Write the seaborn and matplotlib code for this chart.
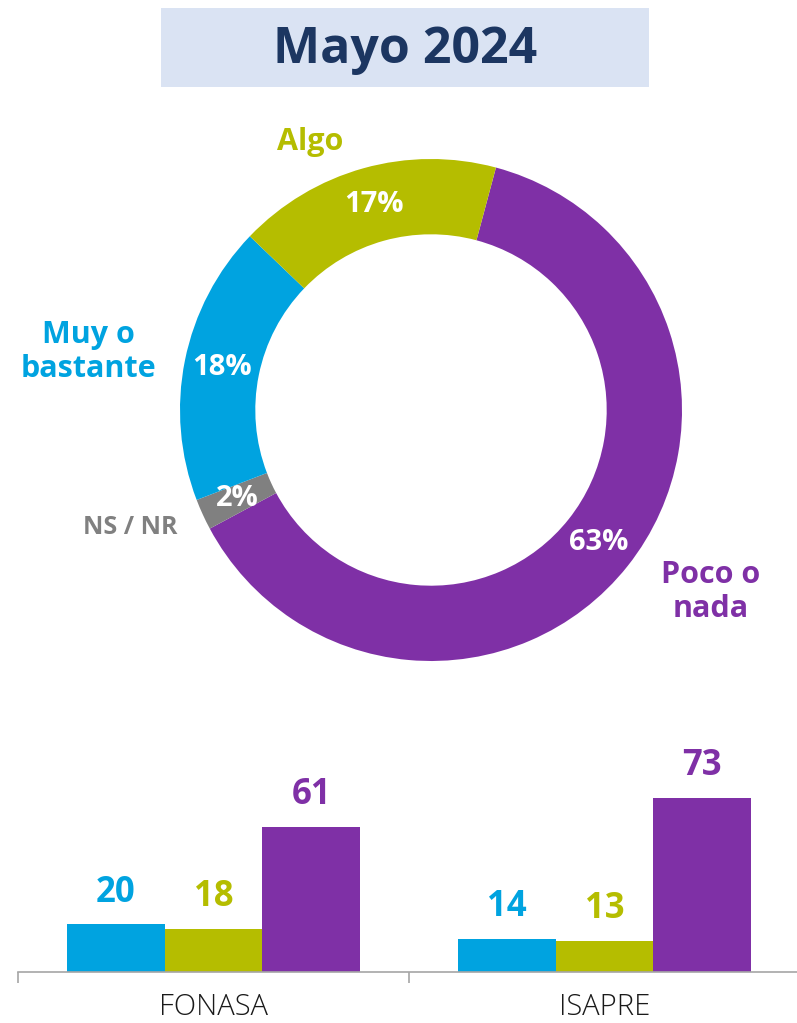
import matplotlib
matplotlib.use("Agg")
import matplotlib.pyplot as plt
import seaborn as sns
import pandas as pd
from matplotlib.patches import Rectangle

# Donut data (clockwise from the top-right)
pie_labels = ["Poco o\nnada", "NS / NR", "Muy o\nbastante", "Algo"]
pie_values = [63, 2, 18, 17]
pie_colors = ["#7f30a6", "#808080", "#00a3e0", "#b5bd00"]

# Bars by health system
groups = ["FONASA", "ISAPRE"]
answers = ["Muy o bastante", "Algo", "Poco o nada"]
fonasa_vals = [20, 18, 61]
isapre_vals = [14, 13, 73]
bar_colors = ["#00a3e0", "#b5bd00", "#7f30a6"]

sns.set_theme(style="white")
plt.rcParams["font.family"] = ["Open Sans", "DejaVu Sans"]

W, H = 797, 1023
fig = plt.figure(figsize=(W / 100, H / 100), dpi=100)

# Title box
fig.patches.append(Rectangle((161 / W, 1 - 87 / H), 488 / W, 79 / H,
                             transform=fig.transFigure, facecolor="#dae3f3",
                             edgecolor="none", zorder=0))
fig.text(405 / W, 1 - 50 / H, "Mayo 2024", ha="center", va="center",
         fontsize=36, fontweight="bold", color="#1c3661")

# Donut
cx, cy, r = 431, 410, 251
ax_pie = fig.add_axes([(cx - r) / W, (H - cy - r) / H, 2 * r / W, 2 * r / H])
wedges, texts, autotexts = ax_pie.pie(
    pie_values, colors=pie_colors, startangle=75, counterclock=False,
    radius=1, autopct=lambda p: f"{p:.0f}%", pctdistance=0.85,
    wedgeprops=dict(width=0.30, linewidth=0),
    textprops=dict(color="white", fontsize=21, fontweight="bold"))
ax_pie.set_xlim(-1, 1)
ax_pie.set_ylim(-1, 1)
ax_pie.axis("off")

def to_data(px, py):
    return (px - cx) / r, (cy - py) / r

label_pos = {"Poco o\nnada": (711, 592), "NS / NR": (130, 527),
             "Muy o\nbastante": (88, 352), "Algo": (310, 142)}
label_size = {"Poco o\nnada": 22, "NS / NR": 18, "Muy o\nbastante": 22, "Algo": 22}
for lab, col in zip(pie_labels, pie_colors):
    x, y = to_data(*label_pos[lab])
    ax_pie.text(x, y, lab, ha="center", va="center", color=col,
                fontsize=label_size[lab], fontweight="bold",
                linespacing=1.2, clip_on=False)

# Bars
df = pd.DataFrame({
    "Grupo": [g for g in groups for _ in answers],
    "Respuesta": answers * 2,
    "Valor": fonasa_vals + isapre_vals,
})
bottom_px, top_px = 972, 740
ax_bar = fig.add_axes([18 / W, (H - bottom_px) / H, 782 / W, (bottom_px - top_px) / H])
sns.barplot(data=df, x="Grupo", y="Valor", hue="Respuesta", hue_order=answers,
            palette=bar_colors, width=0.75, gap=0, legend=False, ax=ax_bar,
            saturation=1, linewidth=0)
ax_bar.set_xlim(-0.5, 1.5)
ax_bar.set_ylim(0, 97.5)
for cont, col in zip(ax_bar.containers, bar_colors):
    ax_bar.bar_label(cont, fmt="%d", padding=10, color=col,
                     fontsize=25, fontweight="bold")

sns.despine(ax=ax_bar, left=True, right=True, top=True)
ax_bar.spines["bottom"].set_color("#a6a6a6")
ax_bar.spines["bottom"].set_linewidth(1.2)
ax_bar.set_yticks([])
ax_bar.set_xlabel("")
ax_bar.set_ylabel("")
ax_bar.set_xticks([0, 1])
ax_bar.set_xticklabels(groups, fontsize=21, fontweight="light", color="#1a1a1a")
ax_bar.set_xticks([-0.5, 0.5, 1.5], minor=True)
ax_bar.tick_params(axis="x", which="major", length=0, pad=15)
ax_bar.tick_params(axis="x", which="minor", length=8, width=1.2, color="#a6a6a6",
                   bottom=True)

fig.savefig("out.png", dpi=100)
